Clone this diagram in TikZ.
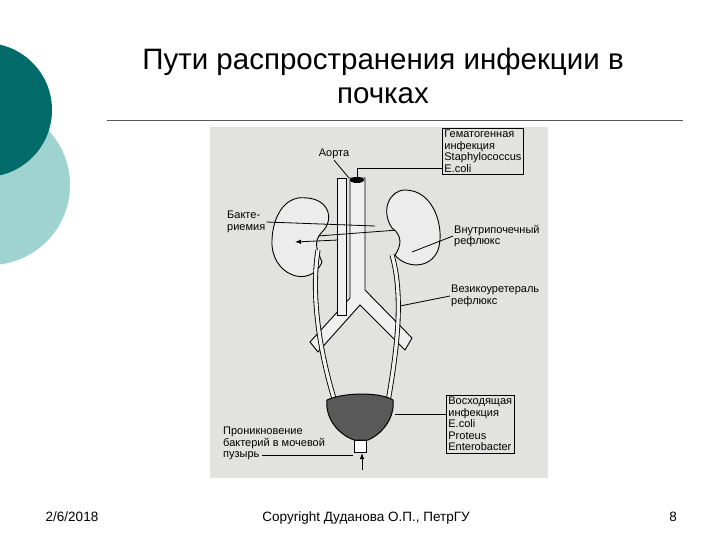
\documentclass[tikz,border=0pt]{standalone}
\usepackage{fontspec}
\setmainfont{Liberation Sans}
\usetikzlibrary{arrows.meta}
\definecolor{dteal}{HTML}{006B68}
\definecolor{lteal}{HTML}{9ED3D0}
\definecolor{scan}{HTML}{E2E2E0}
\tikzset{x=1pt,y=-1pt,
 lab/.style={font=\fontsize{11}{11.5}\selectfont,align=left,inner sep=1pt},
 boxlab/.style={lab,draw,line width=0.8pt,inner sep=2pt},
 lead/.style={line width=0.8pt},
 organ/.style={draw,line width=0.9pt,fill=white!85!gray},
 tube/.style={draw,line width=0.9pt,fill=white!88!gray},
 foot/.style={font=\fontsize{13.5}{14}\selectfont,anchor=base}}
\begin{document}
\begin{tikzpicture}
\useasboundingbox (0,0) rectangle (720,540);
\fill[white] (0,0) rectangle (720,540);
\begin{scope}
\clip (0,0) rectangle (720,540);
\fill[lteal] (-10,185) circle (80);
\fill[dteal] (-15,110) circle (67);
\end{scope}
\node[anchor=base] (t1) at (383,70) {\fontsize{29.5}{32}\selectfont Пути распространения инфекции в};
\node[anchor=base] (t2) at (383,104) {\fontsize{29.5}{32}\selectfont почках};
\draw[gray!70!black,line width=0.6pt] (107,120) -- (683,120);
% scanned figure area
\fill[scan] (210,127) rectangle (548,478);
% iliac/aorta
\path[tube] (350,178) -- (365,178) -- (365,290) -- (412,338) -- (405,350) -- (360,305) -- (318,352) -- (310,342) -- (350,298) -- cycle;
\path[tube] (337,178) rectangle (346,315);
\fill[black] (357,180) ellipse (7 and 3);
% renal vessels
\draw[line width=0.8pt] (318,236) -- (398,230);
% kidneys
\path[organ] (298,198) .. controls (330,195) and (335,220) .. (322,232)
 .. controls (312,242) and (318,252) .. (322,262)
 .. controls (310,290) and (270,275) .. (272,240)
 .. controls (273,215) and (285,200) .. (298,198) -- cycle;
\path[organ] (405,190) .. controls (435,190) and (445,230) .. (438,250)
 .. controls (430,270) and (405,268) .. (395,255)
 .. controls (402,245) and (402,235) .. (392,228)
 .. controls (380,210) and (390,190) .. (405,190) -- cycle;
% ureters
\draw[line width=5pt,black] (318,250) .. controls (310,300) and (322,360) .. (335,402);
\draw[line width=3.3pt,white!88!gray] (318,250) .. controls (310,300) and (322,360) .. (335,402);
\draw[line width=5pt,black] (392,255) .. controls (405,300) and (395,360) .. (388,402);
\draw[line width=3.3pt,white!88!gray] (392,255) .. controls (405,300) and (395,360) .. (388,402);
% bladder
\path[draw,line width=1pt,fill=black!65] (327,400) .. controls (345,392) and (380,392) .. (393,400)
 .. controls (395,420) and (380,435) .. (368,440) -- (354,440) .. controls (340,435) and (325,420) .. (327,400) -- cycle;
\draw[line width=0.8pt,fill=white] (354,440) rectangle (366,452);
% labels
\node[lab] (aorta) at (334,154) {Аорта};
\draw[lead] (aorta.south) -- (349,178);
\node[boxlab,anchor=north west] (hem) at (442,128) {Гематогенная\\инфекция\\Staphylococcus\\E.coli};
\coordinate (hc) at (357,168);
\draw[lead] (hem.west |- hc) -- (hc) -- (357,178);
\node[lab,anchor=west] (bak) at (226,222) {Бакте-\\риемия};
\draw[lead] (bak.east) -- (375,226);
\coordinate (ba1) at (338,240);
\coordinate (ba2) at (295,242);
\draw[lead,-{Latex[length=6pt]}] (ba1) -- (ba2);
\node[lab,anchor=west] (vnut) at (453,236) {Внутрипочечный\\рефлюкс};
\coordinate (v1) at (412,252);
\draw[lead] (vnut.west) -- (v1);
\node[lab,anchor=west] (vez) at (450,296) {Везикоуретераль\\рефлюкс};
\coordinate (v2) at (400,306);
\draw[lead] (vez.west) -- (v2);
\node[boxlab,anchor=north west] (vos) at (446,395) {Восходящая\\инфекция\\E.coli\\Proteus\\Enterobacter};
\coordinate (v3) at (395,414);
\draw[lead] (vos.west |- v3) -- (v3);
\node[lab,anchor=north west] (pro) at (222,426) {Проникновение\\бактерий в мочевой\\пузырь};
\coordinate (p1) at (353,455);
\draw[lead] (262,455) -- (p1);
\coordinate (ar1) at (362,470);
\coordinate (ar2) at (362,453);
\draw[lead,-{Latex[length=6pt]}] (ar1) -- (ar2);
\fill[white] (548,127) rectangle (560,478);
% footer
\node[foot] (d) at (72,521) {2/6/2018};
\node[foot] (c) at (366,521) {Copyright Дуданова О.П., ПетрГУ};
\node[foot] (n) at (673,521) {8};
\end{tikzpicture}
\end{document}
